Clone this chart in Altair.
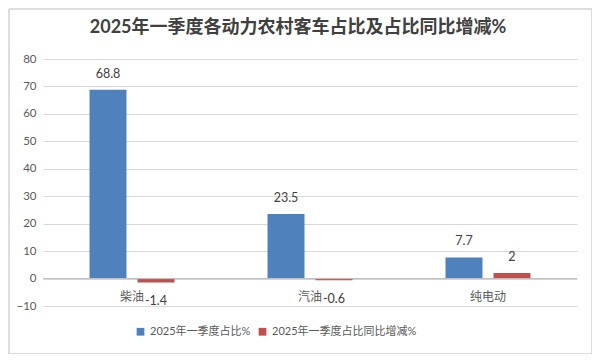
import altair as alt
import pandas as pd

categories = ["柴油", "汽油", "纯电动"]
series_names = ["2025年一季度占比%", "2025年一季度占比同比增减%"]
share = [68.8, 23.5, 7.7]
change = [-1.4, -0.6, 2]
y_ticks = [-10, 0, 10, 20, 30, 40, 50, 60, 70, 80]

rows = []
for c, v in zip(categories, share):
    rows.append({"cat": c, "series": series_names[0], "value": v, "label": f"{v:g}"})
for c, v in zip(categories, change):
    rows.append({"cat": c, "series": series_names[1], "value": v, "label": f"{v:g}"})
df = pd.DataFrame(rows)
cat_df = pd.DataFrame({"cat": categories, "value": [0] * len(categories)})

FONT = "Lato, 'Noto Sans CJK SC', sans-serif"
BLUE = "#4F81BD"
RED = "#C0504D"

x_enc = alt.X("cat:N", sort=categories,
              scale=alt.Scale(domain=categories, paddingInner=0, paddingOuter=0),
              axis=None)
xoff_enc = alt.XOffset("series:N", sort=series_names,
                       scale=alt.Scale(domain=series_names, paddingInner=0.229, paddingOuter=0.969))
y_scale = alt.Scale(domain=[-10, 80], nice=False, zero=False)
y_axis = alt.Axis(values=y_ticks, title=None, domain=False, ticks=False,
                  labelOverlap=False, tickCount=10,
                  gridColor="#D9D9D9", gridWidth=1, labelColor="#595959",
                  labelFontSize=11.5, labelFont=FONT, labelPadding=7)
y_enc = alt.Y("value:Q", scale=y_scale, axis=y_axis)

base = alt.Chart(df)

bars = base.mark_bar().encode(
    x=x_enc,
    xOffset=xoff_enc,
    y=y_enc,
    color=alt.Color("series:N", sort=series_names,
                    scale=alt.Scale(domain=series_names, range=[BLUE, RED]),
                    legend=alt.Legend(title=None, orient="none", direction="horizontal",
                                      legendX=92, legendY=267, symbolType="square",
                                      symbolSize=60, symbolStrokeWidth=0,
                                      labelFontSize=11, labelColor="#595959",
                                      labelFont=FONT, columnPadding=6, labelOffset=4)),
)

zero_rule = alt.Chart(cat_df).mark_rule(color="#BFBFBF", strokeWidth=1).encode(
    y=y_enc,
    x=alt.value(0), x2=alt.value(534),
)

pos_text = base.transform_filter("datum.value >= 0").mark_text(
    dy=-16, baseline="middle", fontSize=12.5, color="#404040", font=FONT
).encode(x=x_enc, xOffset=xoff_enc, y=y_enc, text="label:N")

neg_text = base.transform_filter("datum.value < 0").mark_text(
    dy=19, baseline="middle", fontSize=12.5, color="#404040", font=FONT
).encode(x=x_enc, xOffset=xoff_enc, y=y_enc, text="label:N")

cat_text = alt.Chart(cat_df).mark_text(
    dy=18, baseline="middle", fontSize=12, color="#595959", font=FONT
).encode(x=x_enc, y=y_enc, text="cat:N")

border = alt.Chart(cat_df).mark_rect(fill=None, stroke="#D9D9D9", strokeWidth=1).encode(
    x=alt.value(-34), x2=alt.value(549), y=alt.value(-50), y2=alt.value(295)
)

chart = alt.layer(bars, zero_rule, pos_text, neg_text, cat_text, border).properties(
    width=534, height=247,
    autosize=alt.AutoSizeParams(type="none"),
    padding={"left": 35, "top": 51, "right": 15, "bottom": 48},
    title=alt.TitleParams("2025年一季度各动力农村客车占比及占比同比增减%",
                          fontSize=18, fontWeight="bold", color="#404040",
                          font=FONT, anchor="middle", dx=-12, offset=-28),
).configure(background="white").configure_view(strokeWidth=0, strokeOpacity=0)

chart.save("out.html", embed_options={"renderer": "svg", "actions": False})
